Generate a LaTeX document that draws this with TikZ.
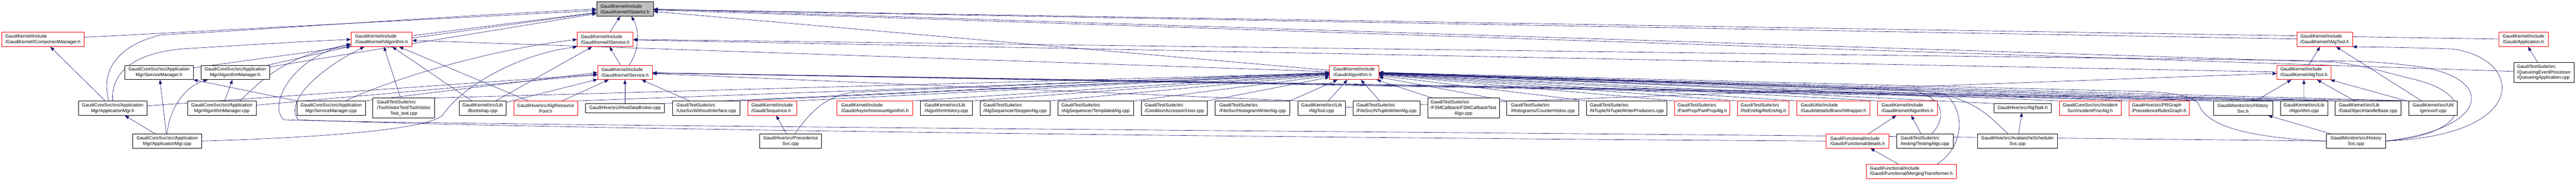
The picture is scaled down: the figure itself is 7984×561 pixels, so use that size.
\documentclass[tikz,border=0pt]{standalone}
\usepackage{fontspec}
\setmainfont{Liberation Sans}
\usetikzlibrary{arrows.meta,backgrounds}
\definecolor{edgeblue}{HTML}{191970}
\definecolor{rootgray}{HTML}{BFBFBF}
\tikzset{
  file/.style={draw=black, fill=white, line width=1.1pt, inner xsep=2pt, inner ysep=3pt,
    minimum height=44.5pt, align=center, font=\fontsize{14.3}{17.2}\selectfont},
  trunc/.style={file, draw=red},
  root/.style={file, fill=rootgray},
  lft/.style={align=left},
  dep/.style={edgeblue, line width=1pt, -{Triangle[length=13pt,width=10pt]}},
}
\newcommand{\lastc}[1]{\null\hfill#1\hfill\null}
\begin{document}
\begin{tikzpicture}[x=1pt,y=-1pt]
\useasboundingbox (0,0) rectangle (7984,561);
% level 0
\node[root, lft, minimum width=176] (stateful) at (1937,28) {GaudiKernel/include\\/GaudiKernel/IStateful.h};
% level 1
\node[trunc, lft, minimum width=256] (icm) at (133,122.5) {GaudiKernel/include\\/GaudiKernel/IComponentManager.h};
\node[trunc, lft, minimum width=189] (ialg) at (1182.5,122.5) {GaudiKernel/include\\/GaudiKernel/IAlgorithm.h};
\node[trunc, lft, minimum width=173] (isvc) at (1875.5,122.5) {GaudiKernel/include\\/GaudiKernel/IService.h};
\node[trunc, lft, minimum width=172] (ialgtool) at (7205,122.5) {GaudiKernel/include\\/GaudiKernel/IAlgTool.h};
\node[trunc, lft, minimum width=153] (app) at (7821,122.5) {GaudiKernel/include\\/Gaudi/Application.h};
% level 2
\node[file, minimum width=212] (svcmgrh) at (493,225) {GaudiCoreSvc/src/Application\\Mgr/ServiceManager.h};
\node[file, minimum width=212] (algmgrh) at (729,225) {GaudiCoreSvc/src/Application\\Mgr/AlgorithmManager.h};
\node[trunc, lft, minimum width=169] (service) at (1937,225) {GaudiKernel/include\\/GaudiKernel/Service.h};
\node[trunc, lft, minimum width=152] (algh) at (4197,225) {GaudiKernel/include\\/Gaudi/Algorithm.h};
\node[trunc, lft, minimum width=167] (algtoolh) at (7140.5,225) {GaudiKernel/include\\/GaudiKernel/AlgTool.h};
\node[file, lft, minimum width=187, minimum height=62] (queue) at (7884.6,224.8) {GaudiTestSuite/src\\/QueueingEventProcessor\\/QueueingApplication.cpp};
% level 3
\node[file, minimum width=212] (appmgrh) at (349,336) {GaudiCoreSvc/src/Application\\Mgr/ApplicationMgr.h};
\node[file, minimum width=212.5] (algmgrcpp) at (687.5,336) {GaudiCoreSvc/src/Application\\Mgr/AlgorithmManager.cpp};
\node[file, minimum width=212] (svcmgrcpp) at (1026,336) {GaudiCoreSvc/src/Application\\Mgr/ServiceManager.cpp};
\node[file, lft, minimum width=191.6, minimum height=62] (toolvisitor) at (1251.5,335.7) {GaudiTestSuite/src\\/ToolVisitorTest/ToolVisitor\\\lastc{Test\_test.cpp}};
\node[file, minimum width=146] (bootstrap) at (1495.6,336) {GaudiKernel/src/Lib\\/Bootstrap.cpp};
\node[trunc, minimum width=197.5] (algres) at (1691.3,336) {GaudiHive/src/AlgResource\\Pool.h};
\node[file, minimum width=245, minimum height=27.6] (hivebroker) at (1937,335.8) {GaudiHive/src/HiveDataBroker.cpp};
\node[file, lft, minimum width=209.4] (usesvc) at (2189,336) {GaudiTestSuite/src\\/UseSvcWithoutInterface.cpp};
\node[trunc, lft, minimum width=151] (sequence) at (2393,336) {GaudiKernel/include\\/Gaudi/Sequence.h};
\node[trunc, lft, minimum width=234.4] (async) at (2711.7,336) {GaudiKernel/include\\/Gaudi/AsynchronousAlgorithm.h};
\node[file, lft, minimum width=161.5] (alghistory) at (2933,336) {GaudiKernel/src/Lib\\/AlgorithmHistory.cpp};
\node[file, lft, minimum width=216.7] (stopper) at (3146,336) {GaudiTestSuite/src\\/AlgSequencer/StopperAlg.cpp};
\node[file, lft, minimum width=234.4] (templated) at (3395.6,336) {GaudiTestSuite/src\\/AlgSequencer/TemplatedAlg.cpp};
\node[file, lft, minimum width=205.6] (user) at (3639.5,336) {GaudiTestSuite/src\\/ConditionAccessor/User.cpp};
\node[file, lft, minimum width=231.4] (histwriter) at (3882,336) {GaudiTestSuite/src\\/FileSvc/HistogramWriterAlg.cpp};
\node[file, minimum width=146.6] (algtoolcpp) at (4095.7,336) {GaudiKernel/src/Lib\\/AlgTool.cpp};
\node[file, lft, minimum width=207.3] (ntuplewriter) at (4297,336) {GaudiTestSuite/src\\/FileSvc/NTupleWriterAlg.cpp};
\node[file, lft, minimum width=221.6, minimum height=62] (fsm) at (4535.7,335.7) {GaudiTestSuite/src\\/FSMCallback/FSMCallbackTest\\\lastc{Algo.cpp}};
\node[file, lft, minimum width=223.5] (counterhistos) at (4782,336) {GaudiTestSuite/src\\/Histograms/CounterHistos.cpp};
\node[file, lft, minimum width=248.7] (ntupleprod) at (5042,336) {GaudiTestSuite/src\\/NTuple/NTupleWriterProducers.cpp};
\node[trunc, lft, minimum width=170.7] (partprop) at (5276,336) {GaudiTestSuite/src\\/PartProp/PartPropAlg.h};
\node[trunc, lft, minimum width=159.8] (reentalg) at (5465,336) {GaudiTestSuite/src\\/ReEntAlg/ReEntAlg.h};
\node[trunc, lft, minimum width=226.9] (branch) at (5682.4,336) {GaudiUtils/include\\/Gaudi/details/BranchWrapper.h};
\node[trunc, lft, minimum width=184.8] (gkalgh) at (5911.7,336) {GaudiKernel/include\\/GaudiKernel/Algorithm.h};
\node[file, minimum width=178.2, minimum height=27.6] (algtask) at (6268.8,335.8) {GaudiHive/src/AlgTask.h};
\node[trunc, minimum width=191.4] (incident) at (6478,336) {GaudiCoreSvc/src/Incident\\Svc/IncidentProcAlg.h};
\node[trunc, lft, minimum width=187.3] (prgraph) at (6691.7,336) {GaudiHive/src/PRGraph\\/PrecedenceRulesGraph.h};
\node[file, minimum width=183.5] (histsvch) at (6951.5,336) {GaudiMonitor/src/History\\Svc.h};
\node[file, minimum width=146.9] (algcpp) at (7140.8,336) {GaudiKernel/src/Lib\\/Algorithm.cpp};
\node[file, lft, minimum width=203.4] (dohb) at (7339.2,336) {GaudiKernel/src/Lib\\/DataObjectHandleBase.cpp};
\node[file, minimum width=150.5] (genconf) at (7541,336) {GaudiKernel/src/Util\\/genconf.cpp};
% level 4
\node[file, minimum width=213.3] (appmgrcpp) at (518.2,438) {GaudiCoreSvc/src/Application\\Mgr/ApplicationMgr.cpp};
\node[file, minimum width=191.9] (precsvc) at (2450.3,438) {GaudiHive/src/Precedence\\Svc.cpp};
\node[trunc, lft, minimum width=194.8] (details) at (5756.9,438) {GaudiFunctional/include\\/Gaudi/Functional/details.h};
\node[file, lft, minimum width=175.4] (testingalgs) at (5966,438) {GaudiTestSuite/src\\/testing/TestingAlgs.cpp};
\node[file, minimum width=247.4] (avalanche) at (6253,438) {GaudiHive/src/AvalancheScheduler\\Svc.cpp};
\node[file, minimum width=183.3] (histsvccpp) at (7302,438) {GaudiMonitor/src/History\\Svc.cpp};
% level 5
\node[trunc, lft, minimum width=280.5] (merging) at (5923.7,532.2) {GaudiFunctional/include\\/Gaudi/Functional/MergingTransformer.h};

\begin{scope}[on background layer]
% straight edges
\foreach \s/\t in {icm/stateful, svcmgrh/stateful, algmgrh/stateful, ialg/stateful, isvc/stateful,
    algh/stateful, ialgtool/stateful, app/stateful, queue/stateful,
    appmgrh/icm, algmgrh/ialg, toolvisitor/ialg, bootstrap/ialg, algres/ialg, algh/ialg,
    service/isvc, bootstrap/isvc, algtoolh/isvc,
    appmgrcpp/svcmgrh, algmgrcpp/algmgrh, appmgrcpp/appmgrh,
    bootstrap/service, algres/service, hivebroker/service, usesvc/service, appmgrh/service,
    algmgrcpp/service, algtoolcpp/algh, ntuplewriter/algh, fsm/algh,
    precsvc/sequence, details/gkalgh, testingalgs/gkalgh, merging/details, avalanche/algtask,
    queue/app, algtoolh/ialgtool, genconf/ialgtool, histsvch/algtoolh, algcpp/algtoolh,
    dohb/algtoolh, algtoolcpp/algtoolh, genconf/algtoolh, histsvccpp/histsvch}
  \draw[dep] (\s) -- (\t);
% from the left, up to the right
\foreach \s/\t in {usesvc/algh, hivebroker/algh, algres/algh, toolvisitor/algh, sequence/algh,
    async/algh, alghistory/algh, stopper/algh, templated/algh, user/algh, histwriter/algh}
  \draw[dep] (\s.north east) -- (\t);
% from the right, up to the left
\foreach \s/\t in {counterhistos/algh, ntupleprod/algh, partprop/algh, reentalg/algh, branch/algh,
    gkalgh/algh, algtask/algh, incident/algh, prgraph/algh, histsvch/algh, algcpp/algh, dohb/algh,
    genconf/algh, histsvch/service, algtoolcpp/service, genconf/service, dohb/service, algcpp/service}
  \draw[dep] (\s.north west) -- (\t);
% curved edges
\draw[dep] (appmgrh.116) .. controls (318,250) and (330,150) .. (500,108) .. controls (700,100) and (1300,55) .. (stateful.west);
\draw[dep] (appmgrh.north) .. controls (345,240) and (390,170) .. (560,152) .. controls (760,140) and (950,128) .. (ialg.west);
\draw[dep] (algmgrcpp.22) .. controls (800,260) and (880,170) .. (ialg.190);
\draw[dep] (appmgrcpp.north) .. controls (525,330) and (580,265) .. (algmgrh.195);
\draw[dep] (svcmgrcpp.north west) -- (svcmgrh.south east);
\draw[dep] (svcmgrcpp.27) .. controls (1250,230) and (1550,150) .. (isvc.west);
\draw[dep] (svcmgrcpp.north east) -- (service.west);
\draw[dep] (appmgrcpp.east) .. controls (900,430) and (1300,410) .. (1370,360) .. controls (1430,270) and (1600,170) .. (isvc.south west);
\draw[dep] (service.60) .. controls (1985,150) and (1980,90) .. (stateful.-49);
\draw[dep] (precsvc.60) .. controls (2510,350) and (2560,295) .. (2650,286) -- (algh.west);
% HistorySvc.cpp
\draw[dep] (histsvccpp.east) .. controls (7650,420) and (7690,290) .. (7467,243) .. controls (7350,212) and (7290,198) .. (7234,193) -- (stateful.east);
\draw[dep] (histsvccpp.east) .. controls (7720,400) and (7740,240) .. (7489,206) .. controls (7400,194) and (7330,191) .. (7290,190) -- (isvc.east);
\draw[dep] (histsvccpp.east) .. controls (7850,420) and (7820,180) .. (7600,152) .. controls (7450,147) and (7350,146) .. (ialgtool.south east);
\draw[dep] (histsvccpp.west) .. controls (6900,425) and (6830,370) .. (6814,322) .. controls (6790,292) and (6700,284) .. (6600,283) -- (algh.east);
\draw[dep] (histsvccpp.west) .. controls (5000,412) and (1500,392) .. (880,372) .. controls (830,330) and (900,180) .. (ialg.188);
% bottom row
\draw[dep] (details.west) .. controls (4000,428) and (1600,400) .. (925,372) .. controls (880,320) and (980,220) .. (ialg.203);
\draw[dep] (merging.16) .. controls (6070,470) and (6100,370) .. (6040,302) -- (algh.east);
\draw[dep] (testingalgs.47) .. controls (6030,370) and (6030,310) .. (5940,283) -- (algh.east);
\draw[dep] (avalanche.142) .. controls (6170,370) and (6130,300) .. (5940,280) -- (algh.east);
\end{scope}
\end{tikzpicture}
\end{document}
